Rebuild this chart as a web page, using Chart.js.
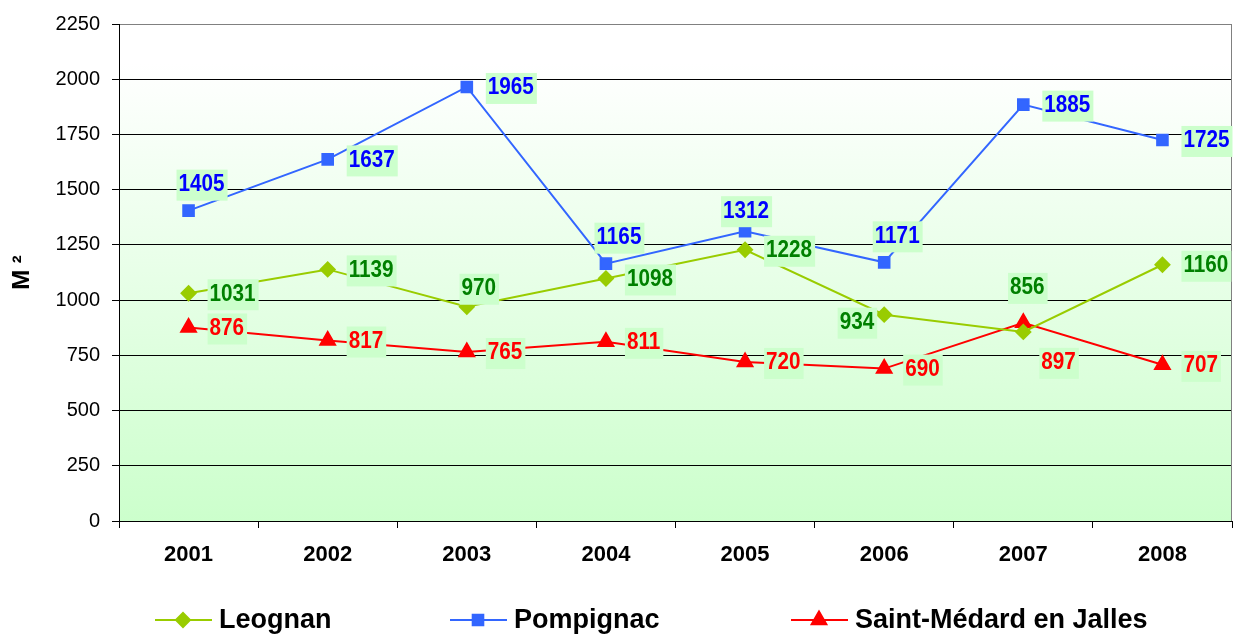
<!DOCTYPE html>
<html><head><meta charset="utf-8">
<script src="https://cdn.jsdelivr.net/npm/chart.js@4.4.0/dist/chart.umd.min.js"></script>
<style>html,body{margin:0;padding:0;background:#fff;overflow:hidden}#wrap{position:relative;width:1235px;height:636px}</style>
</head><body>
<div id="wrap"><canvas id="c"></canvas></div>
<script>
const categories = ['2001','2002','2003','2004','2005','2006','2007','2008'];
const leognan = [1031, 1139, 970, 1098, 1228, 934, 856, 1160];
const pompignac = [1405, 1637, 1965, 1165, 1312, 1171, 1885, 1725];
const saintMedard = [876, 817, 765, 811, 720, 690, 897, 707];
const yTicks = [0, 250, 500, 750, 1000, 1250, 1500, 1750, 2000, 2250];
const seriesNames = ['Leognan', 'Pompignac', 'Saint-Médard en Jalles'];
const yTitle = 'M ²';

// label placement codes (style only)
const leognanPlace = ['R','R','TS','R','R','L','TT','R'];
const pompignacPlace = ['T','R','R','T','TC','T','R','R'];
const saintMedardPlace = ['R','R','R','R','R','R','RB','R'];
const PLACE = {
  R:  {dx: 21, dy: 0,   align: 'left'},
  T:  {dx: 13, dy: -27, align: 'center'},
  TC: {dx: 1,  dy: -21, align: 'center'},
  TS: {dx: 12, dy: -19, align: 'center'},
  TT: {dx: 4,  dy: -45, align: 'center'},
  L:  {dx: -10, dy: 7,  align: 'right'},
  RB: {dx: 18, dy: 39,  align: 'left'}
};
const FONT = "'Liberation Sans', Arial, sans-serif";

const bgPlugin = {
  id: 'bg',
  beforeDraw(chart) {
    const {ctx, chartArea: a} = chart;
    const g = ctx.createLinearGradient(0, a.top, 0, a.bottom);
    g.addColorStop(0, '#ffffff');
    g.addColorStop(0.08, '#ffffff');
    g.addColorStop(1, '#ccffcc');
    ctx.save();
    ctx.fillStyle = g;
    ctx.fillRect(a.left, a.top, a.right - a.left, a.bottom - a.top);
    ctx.restore();
  },
  beforeDatasetsDraw(chart) {
    const {ctx, chartArea: a} = chart;
    ctx.save();
    ctx.strokeStyle = '#808080';
    ctx.lineWidth = 1;
    ctx.beginPath();
    ctx.moveTo(Math.round(a.right) - 0.5, a.top);
    ctx.lineTo(Math.round(a.right) - 0.5, a.bottom);
    ctx.stroke();
    ctx.restore();
  }
};

const labelPlugin = {
  id: 'vlabels',
  afterDatasetsDraw(chart) {
    const ctx = chart.ctx;
    const sx = 0.9;
    ctx.save();
    ctx.font = 'bold 23px ' + FONT;
    ctx.textBaseline = 'middle';
    ctx.textAlign = 'left';
    chart.data.datasets.forEach((ds, di) => {
      const meta = chart.getDatasetMeta(di);
      meta.data.forEach((pt, i) => {
        const p = PLACE[ds.labelPlace[i]];
        const txt = String(ds.data[i]);
        const w = ctx.measureText(txt).width * sx;
        const cx = pt.x + p.dx, cy = pt.y + p.dy;
        let left;
        if (p.align === 'left') left = cx;
        else if (p.align === 'right') left = cx - w;
        else left = cx - w / 2;
        ctx.fillStyle = '#ccffcc';
        ctx.fillRect(left - 2, cy - 14, w + 5, 31);
        ctx.fillStyle = ds.labelColor;
        ctx.save();
        ctx.translate(left, cy + 1);
        ctx.scale(sx, 1);
        ctx.fillText(txt, 0, 0);
        ctx.restore();
      });
    });
    ctx.restore();
  }
};

const legendPlugin = {
  id: 'customLegend',
  afterDraw(chart) {
    const ctx = chart.ctx;
    const starts = [155, 450, 791];
    const y = 620;
    ctx.save();
    chart.data.datasets.forEach((ds, i) => {
      const x0 = starts[i];
      ctx.strokeStyle = ds.borderColor;
      ctx.lineWidth = 2;
      ctx.beginPath();
      ctx.moveTo(x0, y);
      ctx.lineTo(x0 + 57, y);
      ctx.stroke();
      ctx.fillStyle = ds.pointBackgroundColor;
      ctx.strokeStyle = ds.pointBorderColor;
      Chart.helpers.drawPoint(ctx, {pointStyle: ds.pointStyle, radius: ds.pointRadius, rotation: 0, borderWidth: 1}, x0 + 28, y);
      ctx.fillStyle = '#000';
      ctx.font = 'bold 27px ' + FONT;
      ctx.textAlign = 'left';
      ctx.textBaseline = 'middle';
      ctx.fillText(ds.label, x0 + 64, y + 1);
    });
    ctx.restore();
  }
};

// force the plot area to the reference's frame
const areaPlugin = {
  id: 'area',
  afterLayout(chart) {
    const a = chart.chartArea;
    const x = chart.scales.x;
    const targetRight = 1232;
    if (Math.abs(a.right - targetRight) > 0.5) {
      a.right = targetRight;
      a.width = a.right - a.left;
      x.right = targetRight;
      x.width = x.right - x.left;
      x.configure();
    }
  }
};

new Chart(document.getElementById('c'), {
  type: 'line',
  data: {
    labels: categories,
    datasets: [
      {label: seriesNames[0], data: leognan, borderColor: '#99cc00', backgroundColor: '#99cc00',
       pointBackgroundColor: '#99cc00', pointBorderColor: '#99cc00', pointStyle: 'rectRot', pointRadius: 7,
       borderWidth: 2, labelColor: '#008000', labelPlace: leognanPlace},
      {label: seriesNames[1], data: pompignac, borderColor: '#3366ff', backgroundColor: '#3366ff',
       pointBackgroundColor: '#3366ff', pointBorderColor: '#3366ff', pointStyle: 'rect', pointRadius: 7.5,
       borderWidth: 2, labelColor: '#0000ff', labelPlace: pompignacPlace},
      {label: seriesNames[2], data: saintMedard, borderColor: '#ff0000', backgroundColor: '#ff0000',
       pointBackgroundColor: '#ff0000', pointBorderColor: '#ff0000', pointStyle: 'triangle', pointRadius: 8.5,
       borderWidth: 2, labelColor: '#ff0000', labelPlace: saintMedardPlace}
    ]
  },
  options: {
    responsive: true,
    maintainAspectRatio: false,
    devicePixelRatio: 1,
    animation: false,
    layout: {padding: {top: 24, right: 3, left: 0, bottom: 0}},
    plugins: {legend: {display: false}, tooltip: {enabled: false}},
    elements: {line: {tension: 0}},
    scales: {
      x: {
        offset: true,
        grid: {offset: true, drawOnChartArea: false, drawTicks: true, tickLength: 7, color: '#000'},
        border: {display: true, color: '#000', width: 1},
        ticks: {color: '#000', font: {family: FONT, size: 22, weight: 'bold'}, padding: 14, maxRotation: 0},
        afterFit(s) { s.height = 115; s.paddingLeft = 0; s.paddingRight = 0; }
      },
      y: {
        min: 0, max: 2250,
        afterBuildTicks(s) { s.ticks = yTicks.map(v => ({value: v})); },
        grid: {drawTicks: true, tickLength: 7, tickColor: '#000',
               color: c => (c.tick && c.tick.value === 2250) ? '#808080' : '#000'},
        border: {display: true, color: '#000', width: 1},
        ticks: {color: '#000', font: {family: FONT, size: 20}, padding: 12, callback: v => String(v)},
        title: {display: true, text: yTitle, color: '#000', font: {family: FONT, size: 24, weight: 'bold'}, padding: {top: 8, bottom: 0}},
        afterFit(s) { s.width = 119; }
      }
    }
  },
  plugins: [areaPlugin, bgPlugin, labelPlugin, legendPlugin]
});
</script>
</body></html>
